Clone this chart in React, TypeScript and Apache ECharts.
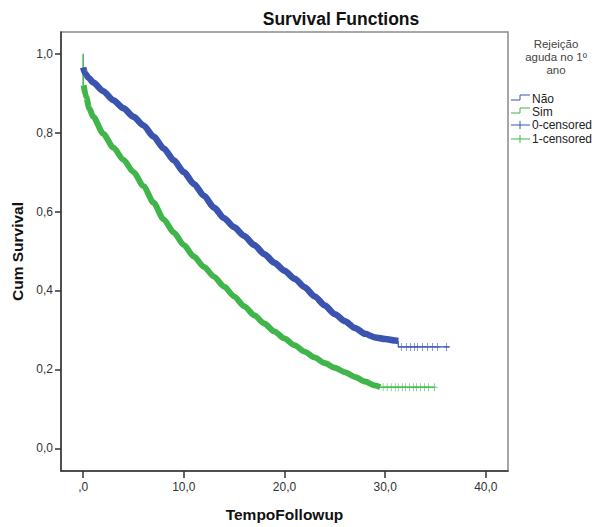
import React, { useEffect, useRef } from "react";
import * as echarts from "echarts";

// ---- Data ----
// Group "Não" (Rejeição aguda no 1º ano = Não)
const naoTime = [0, 0.2, 0.5, 1, 2, 3, 4, 5, 6, 7, 8, 9, 10, 11, 12, 13, 14, 15, 16, 17, 18, 19, 20, 21, 22, 23, 24, 25, 26, 27, 28, 29, 30, 31, 31.3];
const naoSurv = [0.965, 0.95, 0.94, 0.927, 0.905, 0.882, 0.862, 0.84, 0.818, 0.79, 0.76, 0.73, 0.70, 0.67, 0.64, 0.61, 0.583, 0.56, 0.538, 0.515, 0.492, 0.47, 0.45, 0.43, 0.408, 0.385, 0.362, 0.34, 0.322, 0.305, 0.29, 0.281, 0.277, 0.273, 0.272];
const naoTailTime = [31.3, 31.3, 36.4];
const naoTailSurv = [0.272, 0.257, 0.257];
const naoCensorTime = [31.6, 32.1, 32.5, 32.9, 33.2, 33.7, 34.2, 34.7, 35.2, 36.1];
const naoCensorSurv = [0.257, 0.257, 0.257, 0.257, 0.257, 0.257, 0.257, 0.257, 0.257, 0.257];

// Group "Sim"
const simStartTime = [0, 0, 0.05];
const simStartSurv = [1.0, 0.92, 0.92];
const simTime = [0.05, 0.3, 0.6, 1, 2, 3, 4, 5, 6, 7, 8, 9, 10, 11, 12, 13, 14, 15, 16, 17, 18, 19, 20, 21, 22, 23, 24, 25, 26, 27, 28, 29, 29.5];
const simSurv = [0.92, 0.89, 0.862, 0.84, 0.797, 0.762, 0.731, 0.70, 0.664, 0.622, 0.58, 0.547, 0.515, 0.486, 0.46, 0.435, 0.41, 0.385, 0.36, 0.337, 0.316, 0.296, 0.278, 0.261, 0.245, 0.23, 0.216, 0.204, 0.193, 0.181, 0.169, 0.159, 0.155];
const simTailTime = [29.5, 34.9];
const simTailSurv = [0.155, 0.155];
const simCensorTime = [29.8, 30.2, 30.6, 31.0, 31.3, 31.7, 32.0, 32.4, 32.8, 33.1, 33.5, 33.9, 34.3, 34.9];
const simCensorSurv = [0.155, 0.155, 0.155, 0.155, 0.155, 0.155, 0.155, 0.155, 0.155, 0.155, 0.155, 0.155, 0.155, 0.155];

// Tick values
const xTickValues = [0, 10, 20, 30, 40];
const yTickValues = [0, 0.2, 0.4, 0.6, 0.8, 1.0];

// Texts
const chartTitle = "Survival Functions";
const xAxisTitle = "TempoFollowup";
const yAxisTitle = "Cum Survival";
const legendTitleLines = ["Rejeição", "aguda no 1º", "ano"];
const legendItems = ["Não", "Sim", "0-censored", "1-censored"];

const BLUE = "#3a54b0";
const GREEN = "#3fb54a";
const FONT = "'Liberation Sans', Arial, sans-serif";

const zip = (a: number[], b: number[]) => a.map((v, i) => [v, b[i]]);
const CROSS = "path://M4.4,0H5.6V4.4H10V5.6H5.6V10H4.4V5.6H0V4.4H4.4Z";

export default function App() {
  const ref = useRef<HTMLDivElement>(null);
  useEffect(() => {
    if (!ref.current) return;
    const chart = echarts.init(ref.current, undefined, { renderer: "svg" });
    const lx = 511;
    const ly = [99, 112, 125, 139];
    const legendGraphics: any[] = [];
    legendTitleLines.forEach((t, i) => {
      legendGraphics.push({
        type: "text",
        x: 556,
        y: 44 + i * 13,
        style: { text: t, fill: "#444", font: `11.5px ${FONT}`, textAlign: "center", textVerticalAlign: "middle" },
      });
    });
    [BLUE, GREEN].forEach((c, i) => {
      legendGraphics.push({
        type: "polyline",
        shape: { points: [[lx, ly[i] + 1], [lx + 9, ly[i] + 1], [lx + 9, ly[i] - 4], [lx + 19, ly[i] - 4]] },
        style: { stroke: c, lineWidth: 1, fill: "none" },
      });
    });
    [BLUE, GREEN].forEach((c, i) => {
      const y = ly[i + 2];
      legendGraphics.push({ type: "line", shape: { x1: lx, y1: y, x2: lx + 19, y2: y }, style: { stroke: c, lineWidth: 1 } });
      legendGraphics.push({ type: "line", shape: { x1: lx + 9, y1: y - 4, x2: lx + 9, y2: y + 4 }, style: { stroke: c, lineWidth: 1 } });
    });
    legendItems.forEach((t, i) => {
      legendGraphics.push({
        type: "text",
        x: 532,
        y: ly[i],
        style: { text: t, fill: "#222", font: `12px ${FONT}`, textAlign: "left", textVerticalAlign: "middle" },
      });
    });

    chart.setOption({
      animation: false,
      backgroundColor: "#ffffff",
      title: {
        text: chartTitle,
        left: 336,
        top: 5,
        textAlign: "center",
        textStyle: { fontFamily: FONT, fontWeight: "bold", fontSize: 17.5, color: "#111" },
      },
      grid: {
        left: 61,
        top: 32,
        width: 447,
        height: 445,
        show: true,
        borderColor: "#8a8a8a",
        borderWidth: 1.5,
        backgroundColor: "transparent",
      },
      xAxis: {
        type: "value",
        min: -2.2,
        max: 42.2,
        name: xAxisTitle,
        nameLocation: "middle",
        nameGap: 35,
        nameTextStyle: { fontFamily: FONT, fontWeight: "bold", fontSize: 15.5, color: "#111" },
        splitLine: { show: false },
        axisLine: { onZero: false, lineStyle: { color: "#333", width: 1.5 } },
        axisTick: { show: true, length: 7, customValues: xTickValues, lineStyle: { color: "#333", width: 1.5 } },
        axisLabel: {
          customValues: xTickValues,
          margin: 10,
          fontFamily: FONT,
          fontSize: 12,
          color: "#333",
          formatter: (v: number) => (v === 0 ? ",0" : v.toFixed(1).replace(".", ",")),
        },
      },
      yAxis: {
        type: "value",
        min: -0.0575,
        max: 1.055,
        name: yAxisTitle,
        nameLocation: "middle",
        nameGap: 33,
        nameTextStyle: { fontFamily: FONT, fontWeight: "bold", fontSize: 15.5, color: "#111" },
        splitLine: { show: false },
        axisLine: { onZero: false, lineStyle: { color: "#333", width: 1.5 } },
        axisTick: { show: true, length: 6, customValues: yTickValues, lineStyle: { color: "#333", width: 1.5 } },
        axisLabel: {
          customValues: yTickValues,
          margin: 8,
          fontFamily: FONT,
          fontSize: 12,
          color: "#333",
          formatter: (v: number) => v.toFixed(1).replace(".", ","),
        },
      },
      series: [
        {
          name: "Não",
          type: "line",
          data: zip(naoTime, naoSurv),
          showSymbol: false,
          smooth: 0.25,
          smoothMonotone: "x",
          lineStyle: { color: BLUE, width: 6.5, cap: "butt", join: "round" },
          itemStyle: { color: BLUE },
          z: 3,
        },
        {
          name: "Não tail",
          type: "line",
          data: zip(naoTailTime, naoTailSurv),
          showSymbol: false,
          lineStyle: { color: BLUE, width: 1.2 },
          z: 3,
        },
        {
          name: "0-censored",
          type: "scatter",
          data: zip(naoCensorTime, naoCensorSurv),
          symbol: CROSS,
          symbolSize: [6, 8],
          itemStyle: { color: BLUE },
          z: 4,
        },
        {
          name: "Sim start",
          type: "line",
          data: zip(simStartTime, simStartSurv),
          showSymbol: false,
          lineStyle: { color: GREEN, width: 1.5 },
          z: 2,
        },
        {
          name: "Sim",
          type: "line",
          data: zip(simTime, simSurv),
          showSymbol: false,
          smooth: 0.25,
          smoothMonotone: "x",
          lineStyle: { color: GREEN, width: 6, cap: "butt", join: "round" },
          itemStyle: { color: GREEN },
          z: 2,
        },
        {
          name: "Sim tail",
          type: "line",
          data: zip(simTailTime, simTailSurv),
          showSymbol: false,
          lineStyle: { color: GREEN, width: 1.2 },
          z: 2,
        },
        {
          name: "1-censored",
          type: "scatter",
          data: zip(simCensorTime, simCensorSurv),
          symbol: CROSS,
          symbolSize: [6, 8],
          itemStyle: { color: GREEN },
          z: 2,
        },
      ],
      graphic: legendGraphics,
    });
    return () => chart.dispose();
  }, []);
  return (
    <div
      ref={ref}
      style={{ position: "fixed", left: 0, top: 0, width: 596, height: 527, background: "#fff" }}
    />
  );
}
